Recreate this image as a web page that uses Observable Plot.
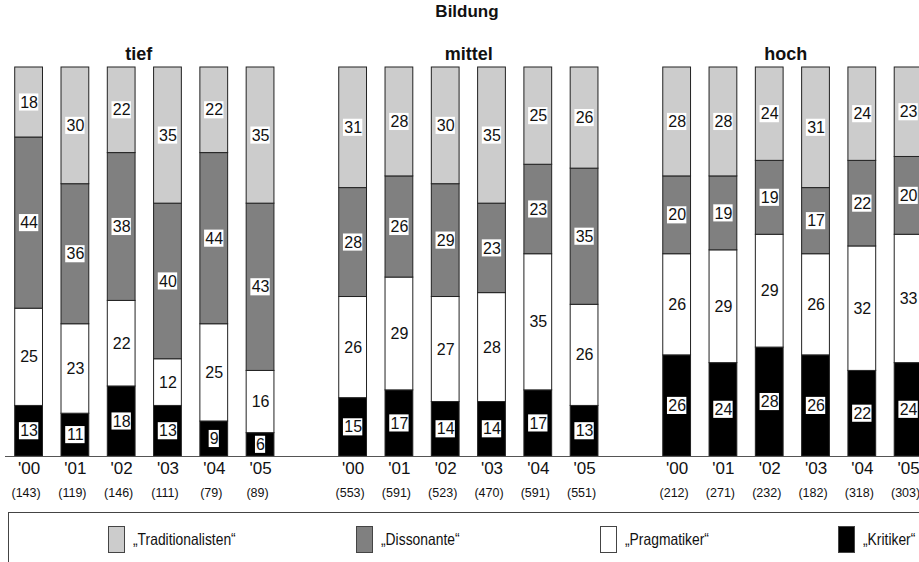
<!DOCTYPE html>
<html>
<head>
<meta charset="utf-8">
<script src="https://cdn.jsdelivr.net/npm/d3@7"></script>
<script src="https://cdn.jsdelivr.net/npm/@observablehq/plot@0.6"></script>
<style>
  html, body { margin: 0; padding: 0; background: #fff; overflow: hidden; }
  body { width: 919px; height: 562px; position: relative; font-family: "Liberation Sans", Arial, sans-serif; }
  #title { position: absolute; left: 0; width: 934px; top: 1px; text-align: center; font-weight: bold; font-size: 17px; line-height: 22px; color: #111; }
  #chart { position: absolute; left: 0; top: 24px; }
  #chart svg { max-width: none; }
  #legend { position: absolute; left: 8px; top: 512px; width: 1000px; height: 70px; border: 1px solid #444; box-sizing: border-box; }
  .item { position: absolute; top: 12px; height: 28px; display: flex; align-items: center; font-size: 16.5px; color: #111; white-space: nowrap; }
  .item span { display: inline-block; transform: scaleX(0.84); transform-origin: left center; }
  .sw { width: 17px; height: 27px; border: 1px solid #444; margin-right: 8px; box-sizing: border-box; flex: none; }
</style>
</head>
<body>
<div id="title">Bildung</div>
<div id="chart"></div>
<div id="legend"></div>
<script>
// ---- data (percent per Bildung group and survey year) ----
const groups = ["tief", "mittel", "hoch"];
const years = ["'00", "'01", "'02", "'03", "'04", "'05"];
const categories = ["Traditionalisten", "Dissonante", "Pragmatiker", "Kritiker"];
const legendLabels = ["„Traditionalisten“", "„Dissonante“", "„Pragmatiker“", "„Kritiker“"];
const categoryColors = ["#cccccc", "#808080", "#ffffff", "#000000"];
// order within each array: tief '00..'05, mittel '00..'05, hoch '00..'05
const traditionalisten = [18, 30, 22, 35, 22, 35, 31, 28, 30, 35, 25, 26, 28, 28, 24, 31, 24, 23];
const dissonante      = [44, 36, 38, 40, 44, 43, 28, 26, 29, 23, 23, 35, 20, 19, 19, 17, 22, 20];
const pragmatiker     = [25, 23, 22, 12, 25, 16, 26, 29, 27, 28, 35, 26, 26, 29, 29, 26, 32, 33];
const kritiker        = [13, 11, 18, 13,  9,  6, 15, 17, 14, 14, 17, 13, 26, 24, 28, 26, 22, 24];
const sampleSizes     = [143, 119, 146, 111, 79, 89, 553, 591, 523, 470, 591, 551, 212, 271, 232, 182, 318, 303];

// ---- build tables ----
const seriesByCat = {Traditionalisten: traditionalisten, Dissonante: dissonante, Pragmatiker: pragmatiker, Kritiker: kritiker};
const stackOrder = ["Kritiker", "Pragmatiker", "Dissonante", "Traditionalisten"]; // bottom -> top

const bars = [];
groups.forEach((g, gi) => years.forEach((y, yi) => {
  const i = gi * years.length + yi;
  bars.push({key: `${g} ${y}`, group: g, year: y, n: sampleSizes[i], index: i});
}));

const xDomain = [];
groups.forEach((g, gi) => {
  if (gi > 0) xDomain.push(`gap${gi}`);
  years.forEach(y => xDomain.push(`${g} ${y}`));
});

const rows = [];
const labels = [];
bars.forEach(b => {
  let base = 0;
  stackOrder.forEach(cat => {
    const v = seriesByCat[cat][b.index];
    rows.push({key: b.key, cat, value: v});
    const mid = base + v / 2;
    labels.push({key: b.key, cat, value: v, mid, lo: mid - 2.2, hi: mid + 2.2});
    base += v;
  });
});
const labels2 = labels.filter(d => d.value >= 10);
const labels1 = labels.filter(d => d.value < 10);

const groupDx = [17, 23, 16];

const chart = Plot.plot({
  width: 919,
  height: 480,
  marginLeft: 5,
  marginRight: 0,
  marginTop: 43,
  marginBottom: 48,
  style: {fontFamily: "'Liberation Sans', Arial, sans-serif", color: "#111", background: "transparent", overflow: "hidden"},
  x: {type: "band", domain: xDomain, range: [-3.8, 940.5], padding: 0.4, round: false, axis: null},
  y: {domain: [0, 100], axis: null},
  color: {domain: categories, range: categoryColors},
  marks: [
    Plot.barY(rows, {x: "key", y: "value", fill: "cat", stroke: "#222", strokeWidth: 1, order: stackOrder}),
    Plot.ruleY([0], {stroke: "#555", strokeWidth: 1}),
    Plot.barY(labels2, {x: "key", y1: "lo", y2: "hi", fill: "white", insetLeft: 4.2, insetRight: 4.2}),
    Plot.barY(labels1, {x: "key", y1: "lo", y2: "hi", fill: "white", insetLeft: 8.8, insetRight: 8.8}),
    Plot.text(labels, {x: "key", y: "mid", text: d => String(d.value), fontSize: 16, fill: "#111"}),
    Plot.text(bars, {x: "key", text: "year", frameAnchor: "bottom", dy: 17, fontSize: 17, fill: "#111"}),
    Plot.text(bars, {x: "key", text: d => `(${d.n})`, frameAnchor: "bottom", dy: 40, dx: -3, fontSize: 12.5, fill: "#111"}),
    ...groups.map((g, gi) => Plot.text([g], {x: d => `${d} '02`, text: d => d, frameAnchor: "top", dy: -20, dx: groupDx[gi],
      fontSize: 18, fontWeight: "bold", fill: "#111"}))
  ]
});
document.getElementById("chart").appendChild(chart);

// ---- legend (HTML, below the chart) ----
const legendX = [99, 347, 591, 829];
const legend = document.getElementById("legend");
categories.forEach((c, i) => {
  const item = document.createElement("div");
  item.className = "item";
  item.style.left = legendX[i] + "px";
  const sw = document.createElement("div");
  sw.className = "sw";
  sw.style.background = categoryColors[i];
  const t = document.createElement("span");
  t.textContent = legendLabels[i];
  item.appendChild(sw);
  item.appendChild(t);
  legend.appendChild(item);
});
</script>
</body>
</html>
